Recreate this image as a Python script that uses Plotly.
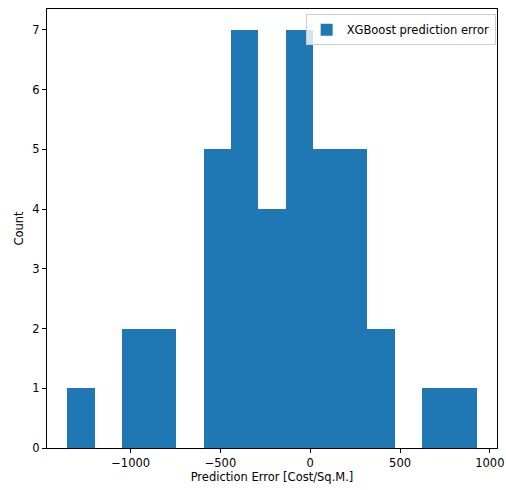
import plotly.graph_objects as go

bin_edges = [-1352, -1200, -1048, -896, -745, -593, -441, -289, -137, 15, 167, 318, 470, 622, 774, 926]
counts = [1, 0, 2, 2, 0, 5, 7, 4, 7, 5, 5, 2, 0, 1, 1]
series_name = "XGBoost prediction error"
x_ticks = [-1000, -500, 0, 500, 1000]
y_ticks = [0, 1, 2, 3, 4, 5, 6, 7]

centers = [(a + b) / 2 for a, b in zip(bin_edges[:-1], bin_edges[1:])]
widths = [b - a for a, b in zip(bin_edges[:-1], bin_edges[1:])]

span = bin_edges[-1] - bin_edges[0]
xr = [bin_edges[0] - 0.05 * span, bin_edges[-1] + 0.05 * span]
yr = [0, max(counts) * 1.05]

FS = 11.5
fig = go.Figure()
fig.add_trace(go.Bar(
    x=centers, y=counts, width=widths, name=series_name,
    marker=dict(color="#1f77b4", line=dict(width=0)),
    showlegend=True,
))

axis_common = dict(
    showline=True, linecolor="black", linewidth=1, mirror=True,
    ticks="outside", ticklen=4, tickwidth=1, tickcolor="black",
    showgrid=False, zeroline=False, automargin=False,
    tickfont=dict(family="DejaVu Sans", size=FS, color="black"),
)

fig.update_layout(
    width=506, height=490,
    margin=dict(l=47, r=9, t=9, b=42),
    paper_bgcolor="white", plot_bgcolor="white",
    font=dict(family="DejaVu Sans", size=FS, color="black"),
    bargap=0,
    xaxis=dict(range=xr, tickvals=x_ticks, **axis_common,
               title=dict(text="Prediction Error [Cost/Sq.M.]", standoff=3,
                          font=dict(family="DejaVu Sans", size=FS))),
    yaxis=dict(range=yr, tickvals=y_ticks, **axis_common,
               title=dict(text="Count", standoff=6,
                          font=dict(family="DejaVu Sans", size=FS))),
    legend=dict(x=0.997, y=0.988, xanchor="right", yanchor="top",
                bgcolor="rgba(255,255,255,0.8)", bordercolor="#cccccc", borderwidth=1,
                font=dict(family="DejaVu Sans", size=FS)),
)

fig.write_html("out.html")
